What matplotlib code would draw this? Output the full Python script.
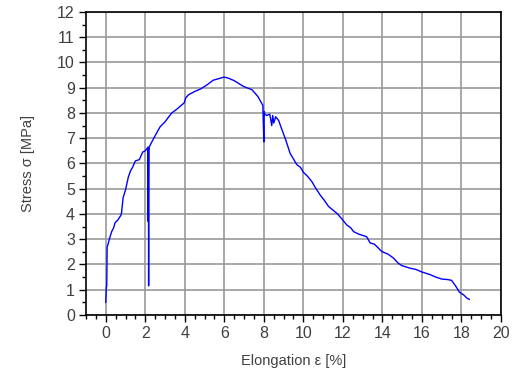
import matplotlib.pyplot as plt
from matplotlib.ticker import MultipleLocator

plt.rcParams['font.family'] = ['Liberation Sans', 'DejaVu Sans']

# elongation [%] and stress [MPa]
elongation = [0.0, 0.03, 0.05, 0.07, 0.1, 0.2, 0.3, 0.4, 0.47, 0.6, 0.77, 0.8, 0.88,
              1.0, 1.14, 1.25, 1.36, 1.5, 1.7, 1.87, 2.0, 2.1, 2.14, 2.15, 2.16, 2.17,
              2.18, 2.2, 2.33, 2.5, 2.75, 3.0, 3.34, 3.6, 3.97, 4.05, 4.19, 4.5, 4.8,
              5.1, 5.45, 5.99, 6.2, 6.5, 6.97, 7.4, 7.7, 7.95, 8.0, 8.02, 8.05, 8.15,
              8.3, 8.4, 8.45, 8.5, 8.6, 8.75, 8.91, 9.1, 9.33, 9.67, 9.85, 10.0, 10.2,
              10.43, 10.6, 10.85, 11.05, 11.27, 11.5, 11.73, 11.95, 12.2, 12.4, 12.54,
              12.8, 13.2, 13.38, 13.6, 13.97, 14.3, 14.56, 14.8, 14.99, 15.4, 15.7,
              16.0, 16.4, 16.7, 17.0, 17.3, 17.5, 17.7, 17.9, 18.1, 18.3, 18.4]
stress = [0.5, 1.1, 1.15, 2.7, 2.75, 3.05, 3.3, 3.45, 3.65, 3.75, 3.95, 4.05, 4.65,
          4.95, 5.45, 5.7, 5.85, 6.1, 6.15, 6.45, 6.5, 6.6, 6.65, 3.7, 6.6, 1.15,
          6.5, 6.65, 6.85, 7.1, 7.45, 7.65, 8.0, 8.15, 8.4, 8.6, 8.72, 8.85, 8.95,
          9.1, 9.3, 9.42, 9.38, 9.28, 9.05, 8.92, 8.65, 8.3, 6.85, 8.05, 7.95, 7.9,
          7.95, 7.5, 7.9, 7.6, 7.85, 7.7, 7.35, 6.95, 6.4, 5.95, 5.85, 5.65, 5.5,
          5.28, 5.05, 4.75, 4.55, 4.3, 4.15, 4.0, 3.8, 3.56, 3.45, 3.3, 3.2, 3.1,
          2.85, 2.8, 2.51, 2.4, 2.25, 2.05, 1.95, 1.85, 1.8, 1.7, 1.6, 1.5, 1.42,
          1.4, 1.37, 1.15, 0.9, 0.8, 0.65, 0.62]

fig = plt.figure(figsize=(5.23, 3.74), dpi=100)
ax = fig.add_axes([0.1644, 0.158, 0.7935, 0.81])

ax.plot(elongation, stress, color='#0000ff', linewidth=1.0)

ax.set_xlim(-1, 20)
ax.set_ylim(0, 12)
ax.xaxis.set_major_locator(MultipleLocator(2))
ax.xaxis.set_minor_locator(MultipleLocator(0.5))
ax.yaxis.set_major_locator(MultipleLocator(1))
ax.yaxis.set_minor_locator(MultipleLocator(0.5))
ax.grid(True, which='major', color='#999999', linewidth=1.2)
ax.set_axisbelow(True)

ax.tick_params(which='major', direction='out', length=5, width=1,
               labelsize=11.5, labelcolor='#404040', pad=3)
ax.tick_params(which='minor', direction='out', length=3, width=1)
for sp in ax.spines.values():
    sp.set_linewidth(1.2)

ax.set_xlabel('Elongation ε [%]', fontsize=10.5, color='#404040', labelpad=9)
ax.set_ylabel('Stress σ [MPa]', fontsize=10.5, color='#404040', labelpad=16)

fig.savefig('out.png', dpi=100)
